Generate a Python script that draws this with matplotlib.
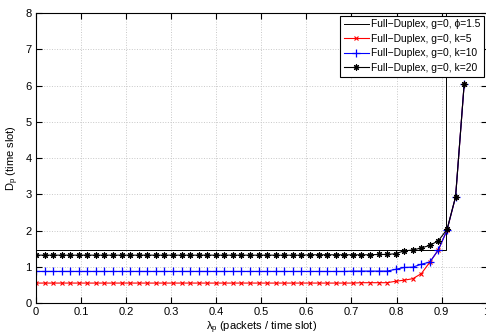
import matplotlib
matplotlib.use('Agg')
import matplotlib.pyplot as plt

plt.rcParams['font.family'] = ['Liberation Sans', 'DejaVu Sans']
plt.rcParams['mathtext.fontset'] = 'custom'
plt.rcParams['mathtext.rm'] = 'Liberation Sans'
plt.rcParams['mathtext.it'] = 'Liberation Sans'
plt.rcParams['font.size'] = 8

# arrival rate grid (51 points, 0 .. 0.95)
lam = [0.000, 0.019, 0.038, 0.057, 0.076, 0.095, 0.114, 0.133, 0.152, 0.171,
       0.190, 0.209, 0.228, 0.247, 0.266, 0.285, 0.304, 0.323, 0.342, 0.361,
       0.380, 0.399, 0.418, 0.437, 0.456, 0.475, 0.494, 0.513, 0.532, 0.551,
       0.570, 0.589, 0.608, 0.627, 0.646, 0.665, 0.684, 0.703, 0.722, 0.741,
       0.760, 0.779, 0.798, 0.817, 0.836, 0.855, 0.874, 0.893, 0.912, 0.931,
       0.950]

d_k5 = [0.55, 0.55, 0.55, 0.55, 0.55, 0.55, 0.55, 0.55, 0.55, 0.55,
        0.55, 0.55, 0.55, 0.55, 0.55, 0.55, 0.55, 0.55, 0.55, 0.55,
        0.55, 0.55, 0.55, 0.55, 0.55, 0.55, 0.55, 0.55, 0.55, 0.55,
        0.55, 0.55, 0.55, 0.55, 0.55, 0.55, 0.55, 0.55, 0.56, 0.56,
        0.56, 0.56, 0.60, 0.63, 0.67, 0.81, 1.13, 1.47, 2.01, 2.93,
        6.03]

d_k10 = [0.87, 0.87, 0.87, 0.87, 0.87, 0.87, 0.87, 0.87, 0.87, 0.87,
         0.87, 0.87, 0.87, 0.87, 0.87, 0.87, 0.87, 0.87, 0.87, 0.87,
         0.87, 0.87, 0.87, 0.87, 0.87, 0.87, 0.87, 0.87, 0.87, 0.87,
         0.87, 0.87, 0.87, 0.87, 0.87, 0.87, 0.87, 0.88, 0.88, 0.88,
         0.88, 0.88, 0.93, 0.98, 0.99, 1.07, 1.13, 1.47, 2.01, 2.93,
         6.03]

d_k20 = [1.32, 1.32, 1.32, 1.32, 1.32, 1.32, 1.32, 1.32, 1.32, 1.32,
         1.32, 1.32, 1.32, 1.32, 1.32, 1.32, 1.32, 1.32, 1.32, 1.32,
         1.32, 1.32, 1.32, 1.32, 1.32, 1.32, 1.32, 1.32, 1.32, 1.32,
         1.32, 1.32, 1.33, 1.33, 1.33, 1.33, 1.33, 1.33, 1.33, 1.33,
         1.34, 1.34, 1.36, 1.44, 1.46, 1.52, 1.59, 1.72, 2.03, 2.93,
         6.03]

# phi = 1.5 curve: flat, then unbounded at the stability limit
lam_phi = [0.0, 0.909, 0.909]
d_phi = [1.47, 1.47, 9.0]

fig = plt.figure(figsize=(4.86, 3.35), dpi=100)
ax = fig.add_axes([0.074, 0.0955, 0.9274, 0.8657])

ax.plot(lam_phi, d_phi, color='k', linewidth=0.7,
        label='Full\u2212Duplex, g=0, \u03d5=1.5')
ax.plot(lam, d_k5, color='r', linewidth=0.8, marker='x', markersize=3,
        markeredgewidth=0.8, label='Full\u2212Duplex, g=0, k=5')
ax.plot(lam, d_k10, color='b', linewidth=0.8, marker='+', markersize=6,
        markeredgewidth=0.9, label='Full\u2212Duplex, g=0, k=10')
ax.plot(lam, d_k20, color='k', linewidth=0.8, marker=(8, 2, 0), markersize=4.5,
        markeredgewidth=0.8, label='Full\u2212Duplex, g=0, k=20')

ax.set_xlim(0, 1)
ax.set_ylim(0, 8)
ax.set_xticks([0, 0.1, 0.2, 0.3, 0.4, 0.5, 0.6, 0.7, 0.8, 0.9, 1])
ax.set_xticklabels(['0', '0.1', '0.2', '0.3', '0.4', '0.5', '0.6', '0.7', '0.8', '0.9', '1'])
ax.set_yticks(range(0, 9))
ax.tick_params(direction='in', top=True, right=True, length=4, width=0.8, pad=3)
ax.grid(True, linestyle=':', color='#c8c8c8', linewidth=0.7)
ax.set_axisbelow(True)
for s in ax.spines.values():
    s.set_linewidth(0.8)

ax.set_xlabel(r'$\lambda_p$ (packets / time slot)', labelpad=2)
ax.set_ylabel(r'D$_p$ (time slot)', labelpad=3)

leg = ax.legend(loc='upper right', fontsize=7.4, handlelength=2.4, borderpad=0.35,
                labelspacing=0.45, handletextpad=0.25, fancybox=False,
                framealpha=1, borderaxespad=0.25)
leg.get_frame().set_edgecolor('k')
leg.get_frame().set_linewidth(0.8)

fig.savefig('out.png', dpi=100)
plt.close()
